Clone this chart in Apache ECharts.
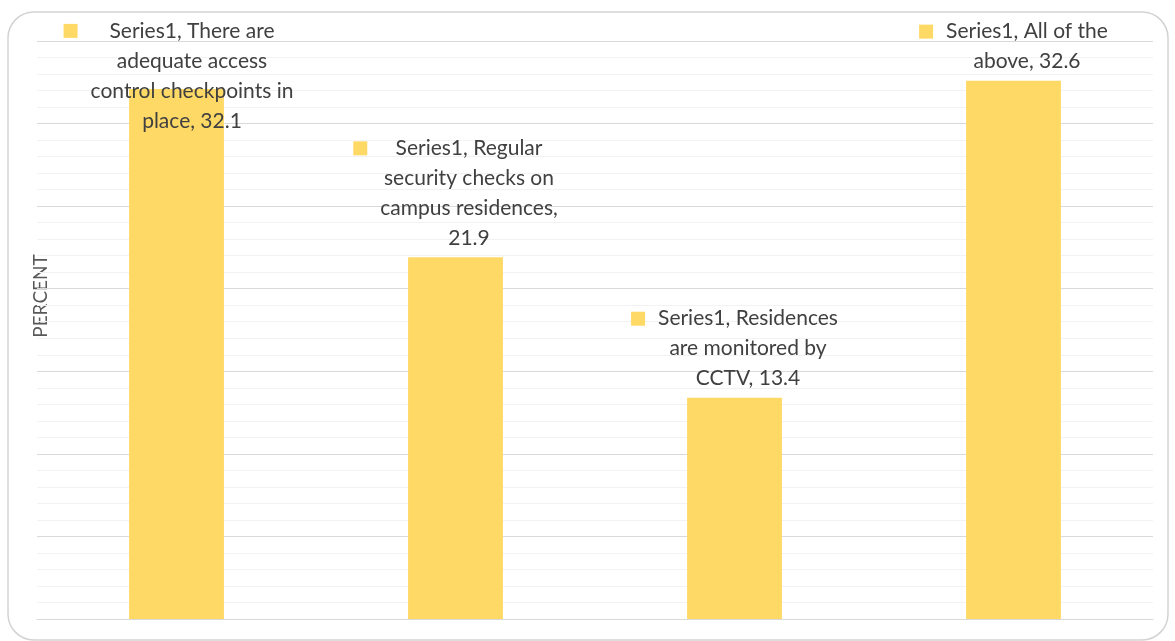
<!DOCTYPE html>
<html>
<head>
<meta charset="utf-8">
<script src="https://cdn.jsdelivr.net/npm/echarts@6/dist/echarts.min.js"></script>
<style>
  html, body { margin: 0; padding: 0; background: #ffffff; }
  #chart { width: 1175px; height: 641px; }
</style>
</head>
<body>
<div id="chart"></div>
<script>
// Survey responses: campus residence security measures (percent)
const seriesName = 'Series1';
const categories = [
  'There are adequate access control checkpoints in place',
  'Regular security checks on campus residences',
  'Residences are monitored by CCTV',
  'All of the above'
];
const values = [32.1, 21.9, 13.4, 32.6];

// Value axis range (0–35, major step 5, minor step 1)
const yMin = 0, yMax = 35, yStep = 5, yMinorSplits = 5;

const BAR_COLOR = '#FFD966';
const TEXT_COLOR = '#404040';
const LABEL_FONT_SIZE = 21;
const LABEL_FONT_FAMILY = 'Lato';
const WRAP_WIDTH = 204;

// Greedy word wrap using the label font's real metrics
const measureCtx = document.createElement('canvas').getContext('2d');
measureCtx.font = LABEL_FONT_SIZE + 'px ' + LABEL_FONT_FAMILY;
function wrapWords(text, maxWidth) {
  const words = text.split(' ');
  const lines = [];
  let cur = '';
  words.forEach(function (w) {
    const trial = cur ? cur + ' ' + w : w;
    if (cur && measureCtx.measureText(trial).width > maxWidth) {
      lines.push(cur);
      cur = w;
    } else {
      cur = trial;
    }
  });
  if (cur) lines.push(cur);
  return lines;
}

// The first label sits too high for the plot, so it is pushed down over its bar
const labelOffsets = [[2, 51], [0, 0], [0, 0], [0, 0]];

const chart = echarts.init(document.getElementById('chart'), null, { renderer: 'canvas' });

chart.setOption({
  backgroundColor: '#ffffff',
  animation: false,
  grid: { left: 37, right: 22, top: 41, bottom: 22, containLabel: false },
  graphic: [
    {
      type: 'rect',
      z: -10,
      silent: true,
      shape: { x: 8, y: 12, width: 1160, height: 628, r: 26 },
      style: { fill: '#ffffff', stroke: '#d3d3d3', lineWidth: 1.5 }
    },
    {
      type: 'text',
      x: 41,
      y: 296,
      rotation: Math.PI / 2,
      silent: true,
      style: {
        text: 'PERCENT',
        fill: '#595959',
        font: '19px Lato',
        align: 'center',
        verticalAlign: 'middle'
      }
    }
  ],
  xAxis: {
    type: 'category',
    data: categories,
    axisLine: { show: true, lineStyle: { color: '#d9d9d9', width: 1 } },
    axisTick: { show: false },
    axisLabel: { show: false },
    splitLine: { show: false }
  },
  yAxis: {
    type: 'value',
    min: yMin,
    max: yMax,
    interval: yStep,
    axisLine: { show: false },
    axisTick: { show: false },
    axisLabel: { show: false },
    splitLine: { show: true, lineStyle: { color: '#d9d9d9', width: 1 } },
    minorTick: { show: false, splitNumber: yMinorSplits },
    minorSplitLine: { show: true, lineStyle: { color: '#f2f2f2', width: 1 } }
  },
  series: [{
    name: seriesName,
    type: 'bar',
    barWidth: '34%',
    itemStyle: { color: BAR_COLOR },
    data: values.map(function (v, i) {
      return { value: v, label: { offset: labelOffsets[i] } };
    }),
    label: {
      show: true,
      position: 'top',
      distance: 4,
      align: 'center',
      color: TEXT_COLOR,
      fontFamily: LABEL_FONT_FAMILY,
      fontSize: LABEL_FONT_SIZE,
      lineHeight: 30,
      formatter: function (p) {
        const lines = wrapWords(seriesName + ', ' + p.name + ', ' + p.value, WRAP_WIDTH);
        return lines.map(function (l, i) {
          return (i === 0 ? '{k|}{g|}' : '{s|}') + l;
        }).join('\n');
      },
      rich: {
        k: { width: 14, height: 14, backgroundColor: BAR_COLOR, align: 'left', lineHeight: 30 },
        g: { width: 13, align: 'left', lineHeight: 30 },
        s: { width: 27, align: 'left', lineHeight: 30 }
      }
    }
  }]
});
</script>
</body>
</html>
